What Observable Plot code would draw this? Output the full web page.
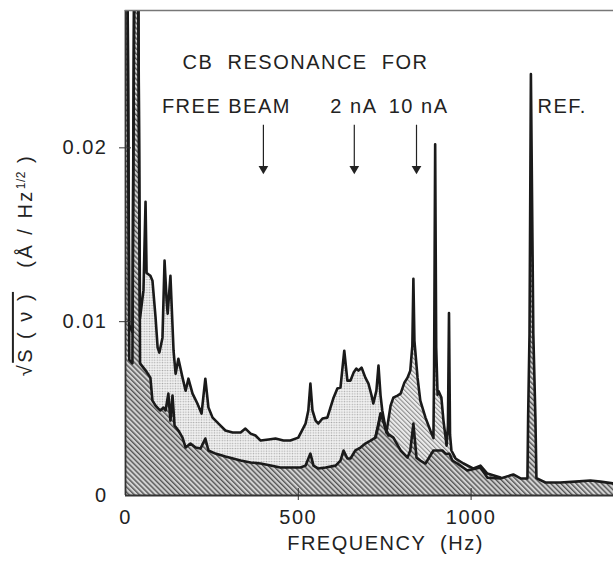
<!DOCTYPE html>
<html><head><meta charset="utf-8">
<script src="https://cdn.jsdelivr.net/npm/d3@7"></script>
<script src="https://cdn.jsdelivr.net/npm/@observablehq/plot@0.6"></script>
<style>
body{margin:0;background:#fff;}
#chart svg{font-family:"Liberation Sans",Arial,sans-serif;white-space:pre;}
</style>
</head><body><div id="chart"></div>
<script>
// ---- data (Hz, Å/Hz^1/2) ----
const lowFreq = [0, 6, 11, 20, 25, 37, 42, 50, 58, 72, 78, 87, 95, 101, 110, 116, 124, 130, 136, 142, 153, 165, 174, 188, 203, 217, 231, 240, 260, 289, 333, 362, 391, 420, 448, 477, 506, 521, 535, 544, 558, 579, 608, 622, 631, 642, 651, 665, 680, 694, 709, 723, 732, 738, 746, 758, 775, 796, 816, 824, 833, 842, 853, 868, 882, 891, 906, 917, 926, 937, 946, 960, 989, 1027, 1047, 1085, 1122, 1143, 1163, 1165, 1169, 1173, 1180, 1186, 1189, 1215, 1258, 1302, 1345, 1374, 1412];
const lowVal = [0.029, 0.029, 0.0078, 0.0076, 0.029, 0.029, 0.0076, 0.0074, 0.0072, 0.00678, 0.00546, 0.00517, 0.005, 0.00489, 0.00506, 0.00489, 0.00586, 0.00431, 0.00575, 0.00402, 0.00374, 0.00333, 0.00276, 0.00299, 0.00276, 0.0027, 0.00328, 0.00259, 0.00241, 0.00224, 0.00201, 0.0019, 0.00184, 0.00172, 0.00161, 0.00161, 0.00161, 0.00172, 0.00241, 0.00172, 0.00155, 0.00161, 0.00172, 0.00201, 0.00259, 0.00213, 0.00213, 0.00259, 0.00276, 0.00299, 0.00316, 0.00333, 0.00402, 0.00471, 0.00431, 0.00356, 0.00333, 0.00259, 0.00218, 0.00259, 0.00414, 0.00218, 0.00201, 0.00184, 0.0023, 0.00259, 0.00259, 0.00259, 0.00241, 0.0024, 0.00201, 0.00184, 0.00144, 0.00161, 0.00103, 0.00098, 0.00121, 0.00098, 0.00098, 0.0045, 0.0093, 0.02425, 0.0093, 0.0045, 0.001, 0.00075, 0.00075, 0.0008, 0.00086, 0.0008, 0.00069];

const midFreq = [0, 6, 11, 20, 25, 37, 42, 52, 58, 61, 64, 72, 78, 87, 93, 98, 107, 113, 119, 122, 130, 139, 145, 153, 165, 174, 182, 194, 208, 220, 231, 240, 252, 275, 289, 310, 333, 347, 362, 376, 391, 414, 434, 457, 477, 500, 521, 529, 535, 541, 550, 558, 570, 584, 602, 613, 622, 633, 642, 651, 660, 668, 674, 683, 694, 703, 712, 717, 726, 732, 738, 743, 752, 761];
const midVal = [0.029, 0.029, 0.0098, 0.0094, 0.029, 0.029, 0.0102, 0.0118, 0.0169, 0.0128, 0.01276, 0.01264, 0.01236, 0.01023, 0.00851, 0.00822, 0.00908, 0.01351, 0.01121, 0.01046, 0.01264, 0.00833, 0.00701, 0.00787, 0.00678, 0.00603, 0.00672, 0.00586, 0.00529, 0.00471, 0.00672, 0.00506, 0.00448, 0.00402, 0.00374, 0.00362, 0.00362, 0.00385, 0.00356, 0.00345, 0.00316, 0.00322, 0.00328, 0.00316, 0.00316, 0.00333, 0.00414, 0.00489, 0.00644, 0.00489, 0.00431, 0.00414, 0.00443, 0.00448, 0.00563, 0.00615, 0.00621, 0.00833, 0.00661, 0.00661, 0.00707, 0.0073, 0.00718, 0.00736, 0.00678, 0.00644, 0.00575, 0.00529, 0.00603, 0.00747, 0.00575, 0.00489, 0.00391, 0.00345];

const highFreq = [723, 738, 746, 755, 767, 775, 787, 796, 807, 816, 824, 830, 833, 836, 845, 853, 868, 882, 891, 893, 896, 899, 903, 906, 914, 920, 929, 933, 936, 939, 943, 955, 978, 1007, 1027, 1047, 1085];
const highVal = [0.00333, 0.00471, 0.00431, 0.00362, 0.00517, 0.00563, 0.00575, 0.00586, 0.00649, 0.00678, 0.00718, 0.00862, 0.01247, 0.0089, 0.00678, 0.00546, 0.00448, 0.00374, 0.0033, 0.0075, 0.0202, 0.0085, 0.0058, 0.006, 0.00563, 0.00431, 0.00287, 0.004, 0.0105, 0.0035, 0.00259, 0.00213, 0.00184, 0.00155, 0.00172, 0.00126, 0.00103];

const arrowFreq = [399, 662, 842];
const arrowTop = 0.0213, arrowTip = 0.0188;

const noteText = ["CB  RESONANCE  FOR", "FREE BEAM", "2 nA", "10 nA"];
const noteFreq = [521, 292, 661, 848];
const noteVal = [0.0249, 0.02236, 0.02236, 0.02236];
const refText = ["REF."], refFreq = [1192], refVal = [0.02236];

const xTicks = [0, 500, 1000];
const yTicks = [0, 0.01, 0.02];
const xLabel = "FREQUENCY  (Hz)";

const toRows = (fs, vs) => fs.map((f, i) => ({f, v: vs[i]}));
const low = toRows(lowFreq, lowVal);
const mid = toRows(midFreq, midVal);
const high = toRows(highFreq, highVal);
const notes = noteText.map((t, i) => ({t, f: noteFreq[i], v: noteVal[i]}));
const refs = refText.map((t, i) => ({t, f: refFreq[i], v: refVal[i]}));

const ink = "#1a1a1a";
const plot = Plot.plot({
  width: 613, height: 569,
  marginLeft: 125, marginRight: 0, marginTop: 10, marginBottom: 74,
  style: {fontSize: "20px", fontFamily: "Liberation Sans, Arial, sans-serif", color: "#222", letterSpacing: "1.5px", overflow: "visible"},
  x: {domain: [0, 1412], axis: null, label: null},
  y: {domain: [0, 0.0279], axis: null, label: null},
  marks: [
    Plot.areaY(mid, {x: "f", y: "v", fill: "url(#dotPat)", clip: true}),
    Plot.areaY(high, {x: "f", y: "v", fill: "url(#lightHatch)", clip: true}),
    Plot.areaY(low, {x: "f", y: "v", fill: "url(#denseHatch)", clip: true}),
    Plot.line(mid, {x: "f", y: "v", stroke: ink, strokeWidth: 2.6, clip: true}),
    Plot.line(high, {x: "f", y: "v", stroke: ink, strokeWidth: 2.6, clip: true}),
    Plot.line(low, {x: "f", y: "v", stroke: ink, strokeWidth: 2.6, clip: true}),
    Plot.ruleX([0], {stroke: "#333", strokeWidth: 1.8}),
    Plot.ruleY([0], {stroke: "#333", strokeWidth: 1.8}),
    Plot.frame({anchor: "top", stroke: "#777", strokeWidth: 1.5}),
    Plot.axisX({ticks: xTicks, tickSize: 0, tickPadding: 14, fontSize: 20, label: null, tickFormat: d => String(d)}),
    Plot.axisX({ticks: xTicks.slice(1), tickSize: 5, text: null, label: null, stroke: "#333"}),
    Plot.axisX({ticks: xTicks.slice(1), tickSize: -7, text: null, label: null, stroke: "#333"}),
    Plot.axisY({ticks: yTicks, tickSize: 0, tickPadding: 18, fontSize: 20, label: null, tickFormat: d => d === 0 ? "0" : d.toFixed(2)}),
    Plot.axisY({ticks: yTicks.slice(1), tickSize: 6, text: null, label: null, stroke: "#333"}),
    Plot.axisY({ticks: yTicks.slice(1), tickSize: -6, text: null, label: null, stroke: "#333"}),
    Plot.ruleX(arrowFreq, {y1: arrowTop, y2: arrowTip, stroke: "#222", strokeWidth: 1.2}),
    Plot.dot(arrowFreq, {x: d => d, y: arrowTip, symbol: "triangle", rotate: 180, r: 3.6, fill: "#222", stroke: null}),
    Plot.text(notes, {x: "f", y: "v", text: "t", fontSize: 20, fill: "#222"}),
    Plot.text(refs, {x: "f", y: "v", text: "t", fontSize: 20, fill: "#222", textAnchor: "start"}),
    Plot.text([xLabel], {frameAnchor: "bottom", dx: 16, dy: 54, fontSize: 20, fill: "#222", textAnchor: "middle"}),
    Plot.text(["Y"], {frameAnchor: "left", dx: -100, dy: 12, rotate: -90, textAnchor: "middle", fontSize: 20, fill: "#222", className: "ylab"})
  ]
});

// patterns
const svg = d3.select(plot);
const defs = svg.insert("defs", ":first-child");
const dense = defs.append("pattern").attr("id", "denseHatch").attr("patternUnits", "userSpaceOnUse")
  .attr("width", 3.6).attr("height", 3.6).attr("patternTransform", "rotate(-45)");
dense.append("rect").attr("width", 3.6).attr("height", 3.6).attr("fill", "#d2d2d2");
dense.append("rect").attr("width", 1.4).attr("height", 3.6).attr("fill", "#555");
const light = defs.append("pattern").attr("id", "lightHatch").attr("patternUnits", "userSpaceOnUse")
  .attr("width", 3.2).attr("height", 3.2).attr("patternTransform", "rotate(-45)");
light.append("rect").attr("width", 3.2).attr("height", 3.2).attr("fill", "#ececec");
light.append("rect").attr("width", 1.1).attr("height", 3.2).attr("fill", "#8c8c8c");
const dots = defs.append("pattern").attr("id", "dotPat").attr("patternUnits", "userSpaceOnUse")
  .attr("width", 2.6).attr("height", 2.6);
dots.append("rect").attr("width", 2.6).attr("height", 2.6).attr("fill", "#f2f2f2");
dots.append("circle").attr("cx", 1.3).attr("cy", 1.3).attr("r", 0.75).attr("fill", "#a9a9a9");

// y label with radical and superscript
const yl = svg.select(".ylab text");
yl.text(null).attr("letter-spacing", "2.5px");
yl.append("tspan").text("√");
yl.append("tspan").attr("style", "text-decoration:overline").text("S ( ν )");
yl.append("tspan").text("   (Å / Hz");
yl.append("tspan").attr("baseline-shift", "super").attr("font-size", 12).attr("letter-spacing", "0.5px").text("1/2");
yl.append("tspan").text(" )");

document.getElementById("chart").append(plot);
</script>
</body></html>
